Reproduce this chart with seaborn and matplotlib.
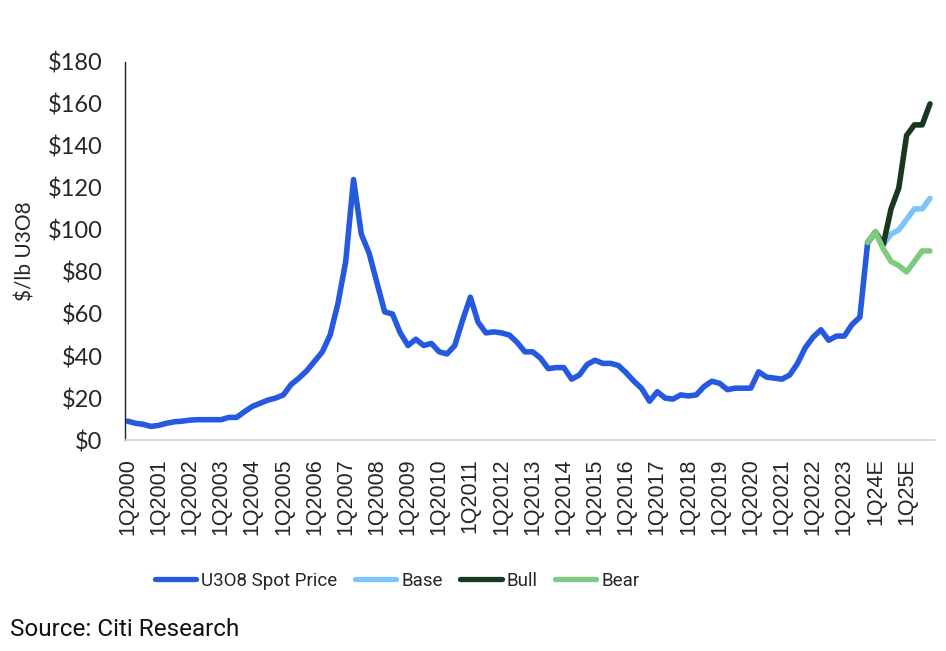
import matplotlib
matplotlib.use("Agg")
import matplotlib.pyplot as plt
import seaborn as sns
import pandas as pd
from matplotlib.ticker import FuncFormatter

# ---------------- data ----------------
tick_labels = ["1Q2000", "1Q2001", "1Q2002", "1Q2003", "1Q2004", "1Q2005", "1Q2006",
               "1Q2007", "1Q2008", "1Q2009", "1Q2010", "1Q2011", "1Q2012", "1Q2013",
               "1Q2014", "1Q2015", "1Q2016", "1Q2017", "1Q2018", "1Q2019", "1Q2020",
               "1Q2021", "1Q2022", "1Q2023", "1Q24E", "1Q25E"]

# quarterly U3O8 spot price, 1Q2000 .. 4Q2023
spot = [9, 8, 7.5, 6.5, 7, 8, 8.7, 9, 9.5, 9.7, 9.7, 9.7,
        9.7, 10.8, 10.8, 13.5, 16, 17.5, 19, 20, 21.5, 26.5, 29.5, 33,
        37.5, 42, 50, 65, 85, 124, 98, 89, 75, 61, 60, 51,
        45, 48, 45, 46, 42, 41, 45, 57, 68, 56, 51, 51.5,
        51, 50, 46.5, 42, 42, 39, 34, 34.5, 34.5, 29, 31, 36,
        38, 36.5, 36.5, 35.5, 32, 28, 24.5, 18.5, 23, 20, 19.5, 21.5,
        21, 21.5, 25.5, 28, 27, 24, 24.7, 24.7, 24.7, 32.5, 30, 29.5,
        29, 31, 36.5, 44, 49, 52.5, 47.5, 49.5, 49.5, 55, 58.5, 94]

# scenarios, 4Q2023 .. 4Q2025E
base = [94, 99, 93, 98, 100, 105, 110, 110, 115]
bull = [94, 99, 93, 110, 120, 145, 150, 150, 160]
bear = [94, 99, 91, 85, 83, 80, 85, 90, 90]

series_names = ["U3O8 Spot Price", "Base", "Bull", "Bear"]
colors = ["#2459E0", "#7CC4FA", "#19381F", "#7DCB7E"]

# ---------------- frame ----------------
start_fc = len(spot) - 1
rows = []
for i, v in enumerate(spot):
    rows.append((i, v, series_names[0]))
for name, vals in zip(series_names[1:], [base, bull, bear]):
    for j, v in enumerate(vals):
        rows.append((start_fc + j, v, name))
df = pd.DataFrame(rows, columns=["q", "price", "series"])

sns.set_theme(style="white")
plt.rcParams["font.family"] = ["Liberation Sans", "DejaVu Sans"]

fig = plt.figure(figsize=(9.46, 6.51), dpi=100)
ax = fig.add_axes([0.132, 0.324, 0.856, 0.581])

sns.lineplot(data=df, x="q", y="price", hue="series", hue_order=series_names,
             palette=dict(zip(series_names, colors)), linewidth=4.0,
             ax=ax, legend=False, sort=False, estimator=None)

ax.set_ylim(0, 180)
ax.set_xlim(-0.35, 103.6)
ax.set_yticks(range(0, 181, 20))
ax.yaxis.set_major_formatter(FuncFormatter(lambda v, p: f"${int(v)}"))
ax.set_xticks(range(0, 4 * len(tick_labels), 4))
ax.set_xticklabels(tick_labels, rotation=90, fontsize=15.5,
                   family=["Liberation Sans", "DejaVu Sans"])
for t in ax.get_yticklabels():
    t.set_fontsize(17)
    t.set_family(["Lato", "DejaVu Sans"])
ax.set_xlabel("")
ax.set_ylabel("$/lb U3O8", fontsize=15, family=["Lato", "DejaVu Sans"])
ax.yaxis.set_label_coords(-0.11, 0.5)

for s in ["top", "right"]:
    ax.spines[s].set_visible(False)
ax.spines["left"].set_color("#222222")
ax.spines["left"].set_linewidth(1.0)
ax.spines["bottom"].set_color("#d4d4d4")
ax.spines["bottom"].set_linewidth(1.2)
ax.tick_params(axis="y", direction="in", length=6, width=1, color="#222222", pad=16)
ax.tick_params(axis="x", length=0, pad=13)

handles = [plt.Line2D([], [], color=c, lw=3.8, solid_capstyle="round") for c in colors]
leg = fig.legend(handles, series_names, loc="center", bbox_to_anchor=(0.42, 0.108),
                 ncol=4, frameon=False, handlelength=2.2, handletextpad=0.25,
                 columnspacing=0.95, prop={"family": ["Roboto", "DejaVu Sans"], "size": 13.5})

fig.text(0.011, 0.016, "Source: Citi Research", fontsize=17.5,
         family=["Roboto", "DejaVu Sans"], color="#111111", va="bottom", ha="left")

fig.savefig("out.png", dpi=100)
